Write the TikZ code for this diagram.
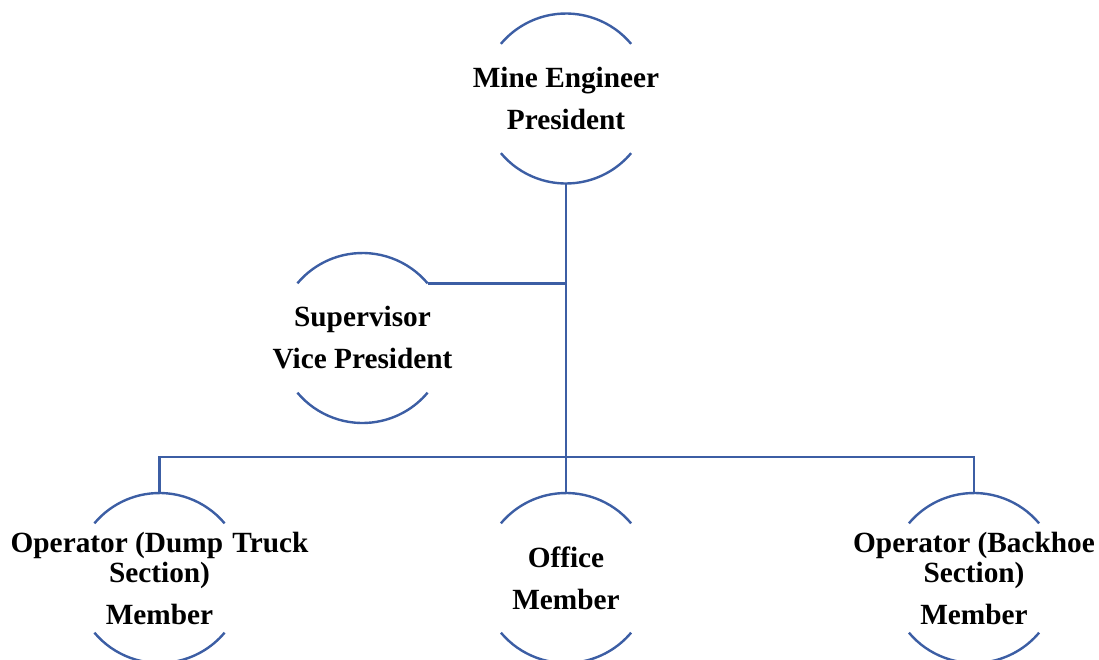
\documentclass[tikz,border=0pt]{standalone}
\usepackage{fontspec}
\setmainfont{Liberation Serif}
\begin{document}
\begin{tikzpicture}[x=1pt,y=1pt,
  orgline/.style={draw=orgblue, line width=2.4pt},
  unittext/.style={inner sep=0pt, align=center,
    font=\fontsize{29.3}{30}\selectfont\bfseries},
]
\definecolor{orgblue}{RGB}{60,94,164}
\useasboundingbox (0,0) rectangle (1099,-659);

% centres of the units
\coordinate (presC)   at (566,-98.5);
\coordinate (viceC)   at (362.5,-338);
\coordinate (dumpC)   at (159.5,-578);
\coordinate (officeC) at (566,-578);
\coordinate (hoeC)    at (974,-578);

% unit labels
\node[unittext] (pres) at (presC) {Mine Engineer\\[12pt]President};
\node[unittext] (vice) at (viceC) {Supervisor\\[12pt]Vice President};
\node[unittext] (dump) at (dumpC) {Operator (Dump\hspace{2pt} Truck\\Section)\\[12pt]Member};
\node[unittext] (office) at (officeC) {Office\\[12pt]Member};
\node[unittext] (hoe) at (hoeC) {Operator (Backhoe\\Section)\\[12pt]Member};

% each unit is shown as an upper and a lower arc
\foreach \n in {presC,viceC,dumpC,officeC,hoeC}{
  \draw[orgline] (\n) ++(40:85) arc[start angle=40, end angle=140, radius=85];
  \draw[orgline] (\n) ++(220:85) arc[start angle=220, end angle=320, radius=85];
}

% attachment points on the arcs
\path (presC)   ++(0,-85)  coordinate (presBot);
\path (officeC) ++(0,85)   coordinate (officeTop);
\path (dumpC)   ++(0,85)   coordinate (dumpTop);
\path (hoeC)    ++(0,85)   coordinate (hoeTop);
\path (viceC)   ++(40:85)  coordinate (viceRight);
\coordinate (bus) at (566,-457);

% connectors
\draw[orgline] (presBot) -- (officeTop);
\draw[orgline] (viceRight) -- (viceRight -| presBot);
\draw[orgline] (dumpTop) -- (dumpTop |- bus) -- (hoeTop |- bus) -- (hoeTop);
\end{tikzpicture}
\end{document}
